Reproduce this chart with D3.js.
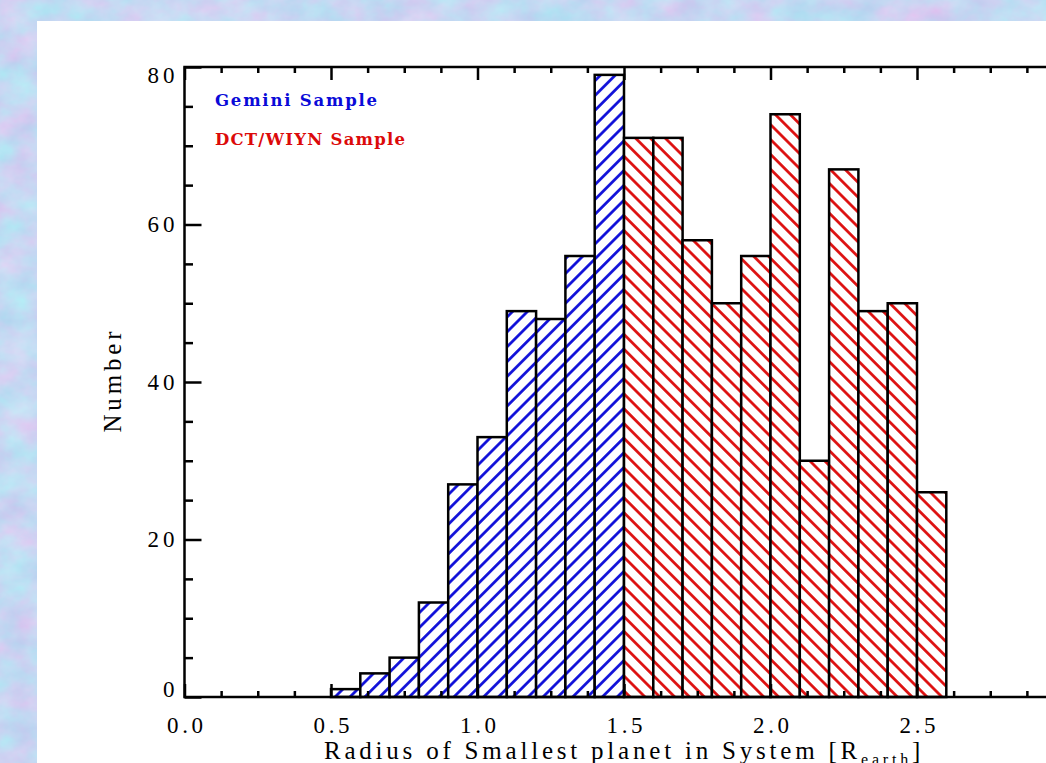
<!DOCTYPE html>
<html>
<head>
<meta charset="utf-8">
<script src="https://cdn.jsdelivr.net/npm/d3@7"></script>
<style>
  html, body { margin: 0; padding: 0; background: #c4dcf2; }
  svg { display: block; }
</style>
</head>
<body>
<script>
// Histogram of the radius of the smallest planet per system
const binWidth = 0.1;
const geminiBins   = [0.5, 0.6, 0.7, 0.8, 0.9, 1.0, 1.1, 1.2, 1.3, 1.4];
const geminiCounts = [1, 3, 5, 12, 27, 33, 49, 48, 56, 79];
const dctBins      = [1.5, 1.6, 1.7, 1.8, 1.9, 2.0, 2.1, 2.2, 2.3, 2.4, 2.5];
const dctCounts    = [71, 71, 58, 50, 56, 74, 30, 67, 49, 50, 26];

const xMajorTicks = [0.0, 0.5, 1.0, 1.5, 2.0, 2.5, 3.0];
const xTickLabels = ["0.0", "0.5", "1.0", "1.5", "2.0", "2.5", "3.0"];
const yMajorTicks = [0, 20, 40, 60, 80];
const yTickLabels = ["0", "20", "40", "60", "80"];
const legendLabels = ["Gemini Sample", "DCT/WIYN Sample"];

const W = 1046, H = 763;
const plot = { left: 184.5, right: 1063.5, top: 67, bottom: 697 };
const blue = "#0a0ad8", red = "#dc0a0a";

const svg = d3.select("body").append("svg")
  .attr("width", W).attr("height", H);

const defs = svg.append("defs");

// pastel cloudy backdrop
const f = defs.append("filter").attr("id", "clouds")
  .attr("color-interpolation-filters", "sRGB")
  .attr("x", 0).attr("y", 0).attr("width", "100%").attr("height", "100%");
f.append("feTurbulence").attr("type", "fractalNoise")
  .attr("baseFrequency", "0.028 0.036").attr("numOctaves", 4).attr("seed", 11);
f.append("feColorMatrix").attr("type", "matrix").attr("values", [
  0.26, 0.00, 0, 0, 0.645,
 -0.12, 0.15, 0, 0, 0.83,
  0.00, 0.04, 0, 0, 0.93,
  0.00, 0.00, 0, 0, 1.00
].join(" "));

svg.append("rect").attr("width", W).attr("height", H)
  .attr("fill", "#c4dcf2").attr("filter", "url(#clouds)");

// white chart panel
svg.append("rect").attr("x", 37).attr("y", 21)
  .attr("width", W - 37).attr("height", H - 21).attr("fill", "#ffffff");

// diagonal hatch fills
function hatch(id, color, angle) {
  const p = defs.append("pattern").attr("id", id)
    .attr("patternUnits", "userSpaceOnUse")
    .attr("width", 10.5).attr("height", 10.5)
    .attr("patternTransform", `rotate(${angle})`);
  p.append("rect").attr("width", 10.5).attr("height", 10.5).attr("fill", "#fff");
  p.append("line").attr("x1", 5.25).attr("x2", 5.25).attr("y1", -1).attr("y2", 11.5)
    .attr("stroke", color).attr("stroke-width", 2.7);
}
hatch("hatchBlue", blue, 45);
hatch("hatchRed", red, -45);

const x = d3.scaleLinear().domain([0, 3]).range([plot.left, plot.right]);
const y = d3.scaleLinear().domain([0, 80]).range([plot.bottom, plot.top]);

function drawBars(bins, counts, fillId) {
  svg.append("g").selectAll("rect")
    .data(bins.map((b, i) => ({ x0: b, x1: b + binWidth, n: counts[i] })))
    .join("rect")
    .attr("x", d => x(d.x0))
    .attr("y", d => y(d.n))
    .attr("width", d => x(d.x1) - x(d.x0))
    .attr("height", d => y(0) - y(d.n))
    .attr("fill", `url(#${fillId})`)
    .attr("stroke", "#000")
    .attr("stroke-width", 2.5);
}
drawBars(geminiBins, geminiCounts, "hatchBlue");
drawBars(dctBins, dctCounts, "hatchRed");

// axes: ticks point inward on all four sides
const xMinor = d3.range(0, 3.0001, 0.125).filter(v => !xMajorTicks.some(m => Math.abs(m - v) < 1e-6));
const yMinor = d3.range(0, 80.001, 5).filter(v => !yMajorTicks.includes(v));

function styleAxis(g) {
  g.select(".domain").remove();
  g.selectAll(".tick line").attr("stroke", "#000").attr("stroke-width", 2.5);
}

const serif = "'Liberation Serif', 'Times New Roman', serif";

// bottom
const gB = svg.append("g").attr("transform", `translate(0,${plot.bottom})`)
  .call(d3.axisBottom(x).tickValues(xMajorTicks).tickSize(-13).tickPadding(20)
    .tickFormat((d, i) => xTickLabels[i]));
styleAxis(gB);
gB.selectAll(".tick text")
  .attr("fill", "#000").attr("font-family", serif).attr("font-size", 23)
  .attr("dy", "0.68em")
  .attr("textLength", 36).attr("lengthAdjust", "spacing");
svg.append("g").attr("transform", `translate(0,${plot.bottom})`)
  .call(d3.axisBottom(x).tickValues(xMinor).tickSize(-6).tickFormat(""))
  .call(styleAxis);

// top
svg.append("g").attr("transform", `translate(0,${plot.top})`)
  .call(d3.axisTop(x).tickValues(xMajorTicks).tickSize(-13).tickFormat(""))
  .call(styleAxis);
svg.append("g").attr("transform", `translate(0,${plot.top})`)
  .call(d3.axisTop(x).tickValues(xMinor).tickSize(-6).tickFormat(""))
  .call(styleAxis);

// left
const gL = svg.append("g").attr("transform", `translate(${plot.left},0)`)
  .call(d3.axisLeft(y).tickValues(yMajorTicks).tickSize(-17).tickPadding(10)
    .tickFormat((d, i) => yTickLabels[i]));
styleAxis(gL);
gL.selectAll(".tick text")
  .attr("fill", "#000").attr("font-family", serif).attr("font-size", 23)
  .attr("textLength", d => String(d).length * 13.5).attr("lengthAdjust", "spacing")
  .attr("dy", d => d === 0 ? "-0.02em" : d === 80 ? "0.66em" : "0.32em");
svg.append("g").attr("transform", `translate(${plot.left},0)`)
  .call(d3.axisLeft(y).tickValues(yMinor).tickSize(-8.5).tickFormat(""))
  .call(styleAxis);

// right
svg.append("g").attr("transform", `translate(${plot.right},0)`)
  .call(d3.axisRight(y).tickValues(yMajorTicks).tickSize(-17).tickFormat(""))
  .call(styleAxis);
svg.append("g").attr("transform", `translate(${plot.right},0)`)
  .call(d3.axisRight(y).tickValues(yMinor).tickSize(-8.5).tickFormat(""))
  .call(styleAxis);

// frame
svg.append("rect")
  .attr("x", plot.left).attr("y", plot.top)
  .attr("width", plot.right - plot.left).attr("height", plot.bottom - plot.top)
  .attr("fill", "none").attr("stroke", "#000").attr("stroke-width", 2.5);

// axis titles
const xt = svg.append("text")
  .attr("x", (plot.left + plot.right) / 2).attr("y", 759)
  .attr("text-anchor", "middle")
  .attr("font-family", serif).attr("font-size", 25).attr("fill", "#000");
xt.append("tspan").text("Radius of Smallest planet in System [R");
xt.append("tspan").attr("font-size", 16).attr("dy", 6).text("earth");
xt.append("tspan").attr("dy", -6).text("]");
{
  const target = 600;
  const w0 = xt.node().getComputedTextLength();
  const n = xt.text().length;
  xt.attr("letter-spacing", ((target - w0) / n).toFixed(2));
}

svg.append("text")
  .attr("transform", `translate(121,382) rotate(-90)`)
  .attr("text-anchor", "middle")
  .attr("font-family", serif).attr("font-size", 25).attr("fill", "#000")
  .attr("textLength", 101).attr("lengthAdjust", "spacing")
  .text("Number");

// legend
const legendFont = "'DejaVu Serif', serif";
[[legendLabels[0], blue, 106, 162], [legendLabels[1], red, 145, 190]].forEach(([t, c, yy, len]) => {
  svg.append("text")
    .attr("x", 215).attr("y", yy)
    .attr("font-family", legendFont).attr("font-weight", "bold")
    .attr("font-size", 16.5).attr("fill", c)
    .attr("textLength", len).attr("lengthAdjust", "spacing")
    .text(t);
});
</script>
</body>
</html>
